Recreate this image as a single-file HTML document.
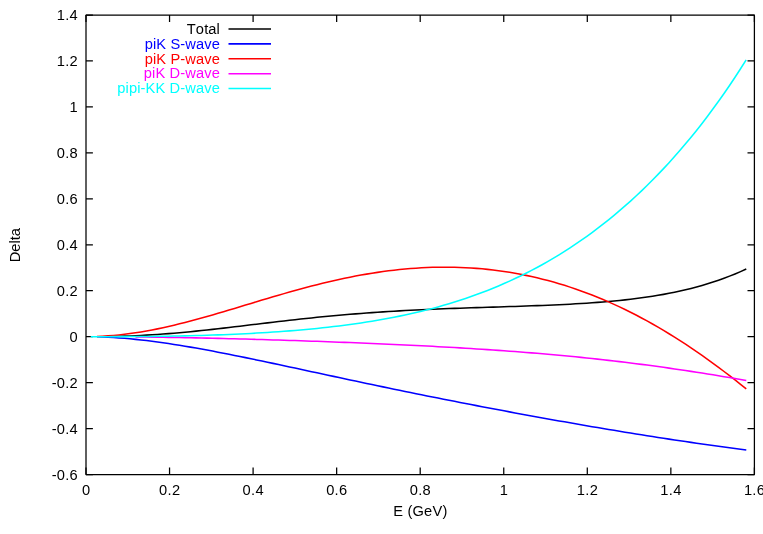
<!DOCTYPE html>
<html><head><meta charset="utf-8"><title>Delta vs E</title>
<style>
html,body{margin:0;padding:0;background:#fff;}
svg{display:block;}
text{font-family:"Liberation Sans",sans-serif;font-size:14.67px;fill:#000;font-kerning:none;}
svg{will-change:transform;}
</style></head><body>
<svg width="763" height="534" viewBox="0 0 763 534">
<rect width="763" height="534" fill="#fff"/>
<path d="M86.0,15.0 H754.4 V474.5 H86.0 Z" fill="none" stroke="#000" stroke-width="1.25" stroke-linejoin="round"/>
<path d="M86.0,474.50 h6.9 M754.4,474.50 h-6.9 M86.0,428.55 h6.9 M754.4,428.55 h-6.9 M86.0,382.60 h6.9 M754.4,382.60 h-6.9 M86.0,336.65 h6.9 M754.4,336.65 h-6.9 M86.0,290.70 h6.9 M754.4,290.70 h-6.9 M86.0,244.75 h6.9 M754.4,244.75 h-6.9 M86.0,198.80 h6.9 M754.4,198.80 h-6.9 M86.0,152.85 h6.9 M754.4,152.85 h-6.9 M86.0,106.90 h6.9 M754.4,106.90 h-6.9 M86.0,60.95 h6.9 M754.4,60.95 h-6.9 M86.0,15.00 h6.9 M754.4,15.00 h-6.9 M86.00,474.5 v-6.9 M86.00,15.0 v6.9 M169.55,474.5 v-6.9 M169.55,15.0 v6.9 M253.10,474.5 v-6.9 M253.10,15.0 v6.9 M336.65,474.5 v-6.9 M336.65,15.0 v6.9 M420.20,474.5 v-6.9 M420.20,15.0 v6.9 M503.75,474.5 v-6.9 M503.75,15.0 v6.9 M587.30,474.5 v-6.9 M587.30,15.0 v6.9 M670.85,474.5 v-6.9 M670.85,15.0 v6.9 M754.40,474.5 v-6.9 M754.40,15.0 v6.9" stroke="#000" stroke-width="1.25" fill="none"/>
<path d="M113.50,336.40 L119.00,336.27 L124.50,336.11 L130.00,335.92 L135.50,335.69 L141.00,335.43 L146.50,335.14 L152.00,334.81 L157.50,334.45 L163.01,334.06 L168.51,333.64 L174.01,333.19 L179.51,332.71 L185.01,332.21 L190.51,331.68 L196.01,331.13 L201.51,330.56 L207.01,329.97 L212.51,329.36 L218.01,328.74 L223.51,328.11 L229.01,327.47 L234.51,326.82 L240.01,326.16 L245.51,325.51 L251.01,324.84 L256.51,324.18 L262.01,323.52 L267.51,322.87 L273.01,322.22 L278.51,321.57 L284.01,320.93 L289.51,320.31 L295.01,319.69 L300.51,319.09 L306.01,318.50 L311.52,317.92 L317.02,317.35 L322.52,316.81 L328.02,316.27 L333.52,315.76 L339.02,315.26 L344.52,314.78 L350.02,314.31 L355.52,313.86 L361.02,313.43 L366.52,313.02 L372.02,312.62 L377.52,312.24 L383.02,311.87 L388.52,311.53 L394.02,311.19 L399.52,310.88 L405.02,310.57 L410.52,310.28 L416.02,310.01 L421.52,309.75 L427.02,309.49 L432.52,309.25 L438.02,309.02 L443.52,308.80 L449.02,308.59 L454.53,308.39 L460.03,308.19 L465.53,308.00 L471.03,307.82 L476.53,307.63 L482.03,307.46 L487.53,307.28 L493.03,307.11 L498.53,306.93 L504.03,306.76 L509.53,306.58 L515.03,306.40 L520.53,306.22 L526.03,306.03 L531.53,305.83 L537.03,305.63 L542.53,305.41 L548.03,305.19 L553.53,304.95 L559.03,304.70 L564.53,304.43 L570.03,304.15 L575.53,303.84 L581.03,303.52 L586.53,303.17 L592.03,302.80 L597.53,302.39 L603.04,301.96 L608.54,301.50 L614.04,301.00 L619.54,300.46 L625.04,299.88 L630.54,299.25 L636.04,298.58 L641.54,297.85 L647.04,297.07 L652.54,296.24 L658.04,295.34 L663.54,294.37 L669.04,293.33 L674.54,292.22 L680.04,291.03 L685.54,289.76 L691.04,288.40 L696.54,286.95 L702.04,285.41 L707.54,283.76 L713.04,282.02 L718.54,280.16 L724.04,278.20 L729.54,276.12 L735.04,273.92 L740.54,271.61 L746.27,269.07" stroke="#000000" stroke-width="1.55" fill="none" stroke-linejoin="round"/>
<path d="M97.00,336.80 L102.50,336.98 L108.00,337.23 L113.50,337.54 L119.00,337.91 L124.50,338.35 L130.00,338.83 L135.50,339.37 L141.00,339.96 L146.50,340.60 L152.00,341.28 L157.50,342.01 L163.01,342.77 L168.51,343.57 L174.01,344.41 L179.51,345.28 L185.01,346.18 L190.51,347.12 L196.01,348.07 L201.51,349.06 L207.01,350.06 L212.51,351.09 L218.01,352.14 L223.51,353.20 L229.01,354.29 L234.51,355.39 L240.01,356.50 L245.51,357.62 L251.01,358.75 L256.51,359.90 L262.01,361.05 L267.51,362.21 L273.01,363.38 L278.51,364.55 L284.01,365.73 L289.51,366.91 L295.01,368.09 L300.51,369.28 L306.01,370.46 L311.52,371.65 L317.02,372.83 L322.52,374.02 L328.02,375.20 L333.52,376.38 L339.02,377.56 L344.52,378.74 L350.02,379.92 L355.52,381.09 L361.02,382.25 L366.52,383.42 L372.02,384.57 L377.52,385.73 L383.02,386.88 L388.52,388.02 L394.02,389.16 L399.52,390.30 L405.02,391.43 L410.52,392.55 L416.02,393.67 L421.52,394.78 L427.02,395.89 L432.52,396.99 L438.02,398.09 L443.52,399.18 L449.02,400.27 L454.53,401.35 L460.03,402.43 L465.53,403.50 L471.03,404.56 L476.53,405.62 L482.03,406.68 L487.53,407.73 L493.03,408.77 L498.53,409.81 L504.03,410.84 L509.53,411.87 L515.03,412.89 L520.53,413.91 L526.03,414.92 L531.53,415.93 L537.03,416.93 L542.53,417.93 L548.03,418.92 L553.53,419.91 L559.03,420.89 L564.53,421.86 L570.03,422.83 L575.53,423.80 L581.03,424.75 L586.53,425.70 L592.03,426.65 L597.53,427.59 L603.04,428.52 L608.54,429.45 L614.04,430.36 L619.54,431.27 L625.04,432.18 L630.54,433.08 L636.04,433.96 L641.54,434.85 L647.04,435.72 L652.54,436.58 L658.04,437.44 L663.54,438.29 L669.04,439.13 L674.54,439.96 L680.04,440.78 L685.54,441.59 L691.04,442.39 L696.54,443.19 L702.04,443.97 L707.54,444.75 L713.04,445.51 L718.54,446.27 L724.04,447.01 L729.54,447.75 L735.04,448.48 L740.54,449.20 L746.29,449.94" stroke="#0000ff" stroke-width="1.55" fill="none" stroke-linejoin="round"/>
<path d="M97.00,336.46 L102.50,336.21 L108.00,335.87 L113.50,335.44 L119.00,334.92 L124.50,334.30 L130.00,333.60 L135.50,332.81 L141.00,331.94 L146.50,330.99 L152.00,329.96 L157.50,328.87 L163.01,327.71 L168.51,326.48 L174.01,325.20 L179.51,323.86 L185.01,322.47 L190.51,321.03 L196.01,319.55 L201.51,318.04 L207.01,316.49 L212.51,314.91 L218.01,313.31 L223.51,311.69 L229.01,310.05 L234.51,308.40 L240.01,306.74 L245.51,305.08 L251.01,303.41 L256.51,301.75 L262.01,300.10 L267.51,298.46 L273.01,296.83 L278.51,295.22 L284.01,293.63 L289.51,292.07 L295.01,290.53 L300.51,289.02 L306.01,287.54 L311.52,286.10 L317.02,284.69 L322.52,283.33 L328.02,282.01 L333.52,280.73 L339.02,279.50 L344.52,278.32 L350.02,277.19 L355.52,276.11 L361.02,275.09 L366.52,274.12 L372.02,273.21 L377.52,272.36 L383.02,271.57 L388.52,270.84 L394.02,270.17 L399.52,269.57 L405.02,269.03 L410.52,268.55 L416.02,268.15 L421.52,267.81 L427.02,267.54 L432.52,267.35 L438.02,267.22 L443.52,267.16 L449.02,267.18 L454.53,267.27 L460.03,267.43 L465.53,267.67 L471.03,267.98 L476.53,268.37 L482.03,268.83 L487.53,269.37 L493.03,269.99 L498.53,270.69 L504.03,271.47 L509.53,272.32 L515.03,273.26 L520.53,274.27 L526.03,275.37 L531.53,276.55 L537.03,277.81 L542.53,279.15 L548.03,280.58 L553.53,282.09 L559.03,283.68 L564.53,285.36 L570.03,287.13 L575.53,288.97 L581.03,290.91 L586.53,292.93 L592.03,295.04 L597.53,297.23 L603.04,299.52 L608.54,301.89 L614.04,304.34 L619.54,306.89 L625.04,309.52 L630.54,312.24 L636.04,315.05 L641.54,317.95 L647.04,320.93 L652.54,324.00 L658.04,327.16 L663.54,330.40 L669.04,333.73 L674.54,337.14 L680.04,340.64 L685.54,344.22 L691.04,347.88 L696.54,351.63 L702.04,355.45 L707.54,359.35 L713.04,363.33 L718.54,367.38 L724.04,371.50 L729.54,375.70 L735.04,379.96 L740.54,384.29 L746.24,388.83" stroke="#ff0000" stroke-width="1.55" fill="none" stroke-linejoin="round"/>
<path d="M135.50,336.92 L141.00,336.98 L146.50,337.05 L152.00,337.12 L157.50,337.20 L163.01,337.28 L168.51,337.37 L174.01,337.47 L179.51,337.57 L185.01,337.67 L190.51,337.78 L196.01,337.89 L201.51,338.01 L207.01,338.13 L212.51,338.26 L218.01,338.39 L223.51,338.52 L229.01,338.66 L234.51,338.80 L240.01,338.95 L245.51,339.10 L251.01,339.25 L256.51,339.41 L262.01,339.57 L267.51,339.73 L273.01,339.90 L278.51,340.07 L284.01,340.24 L289.51,340.42 L295.01,340.60 L300.51,340.78 L306.01,340.97 L311.52,341.16 L317.02,341.35 L322.52,341.55 L328.02,341.75 L333.52,341.96 L339.02,342.16 L344.52,342.37 L350.02,342.59 L355.52,342.81 L361.02,343.03 L366.52,343.26 L372.02,343.49 L377.52,343.72 L383.02,343.96 L388.52,344.21 L394.02,344.46 L399.52,344.71 L405.02,344.97 L410.52,345.23 L416.02,345.50 L421.52,345.78 L427.02,346.06 L432.52,346.35 L438.02,346.65 L443.52,346.95 L449.02,347.25 L454.53,347.57 L460.03,347.89 L465.53,348.22 L471.03,348.56 L476.53,348.91 L482.03,349.26 L487.53,349.63 L493.03,350.00 L498.53,350.38 L504.03,350.77 L509.53,351.17 L515.03,351.58 L520.53,352.01 L526.03,352.44 L531.53,352.88 L537.03,353.33 L542.53,353.80 L548.03,354.28 L553.53,354.76 L559.03,355.27 L564.53,355.78 L570.03,356.30 L575.53,356.84 L581.03,357.39 L586.53,357.96 L592.03,358.54 L597.53,359.13 L603.04,359.74 L608.54,360.36 L614.04,360.99 L619.54,361.64 L625.04,362.30 L630.54,362.98 L636.04,363.67 L641.54,364.37 L647.04,365.09 L652.54,365.83 L658.04,366.57 L663.54,367.34 L669.04,368.12 L674.54,368.91 L680.04,369.71 L685.54,370.53 L691.04,371.37 L696.54,372.22 L702.04,373.08 L707.54,373.95 L713.04,374.84 L718.54,375.74 L724.04,376.65 L729.54,377.57 L735.04,378.51 L740.54,379.45 L746.29,380.45" stroke="#ff00ff" stroke-width="1.55" fill="none" stroke-linejoin="round"/>
<path d="M90.75,336.65 L97.00,336.65 L102.50,336.65 L108.00,336.65 L113.50,336.64 L119.00,336.63 L124.50,336.61 L130.00,336.59 L135.50,336.56 L141.00,336.52 L146.50,336.47 L152.00,336.42 L157.50,336.35 L163.01,336.27 L168.51,336.19 L174.01,336.09 L179.51,335.98 L185.01,335.86 L190.51,335.73 L196.01,335.59 L201.51,335.43 L207.01,335.26 L212.51,335.08 L218.01,334.89 L223.51,334.68 L229.01,334.45 L234.51,334.21 L240.01,333.96 L245.51,333.69 L251.01,333.40 L256.51,333.09 L262.01,332.77 L267.51,332.43 L273.01,332.07 L278.51,331.69 L284.01,331.29 L289.51,330.87 L295.01,330.42 L300.51,329.95 L306.01,329.46 L311.52,328.94 L317.02,328.40 L322.52,327.82 L328.02,327.22 L333.52,326.59 L339.02,325.92 L344.52,325.22 L350.02,324.49 L355.52,323.73 L361.02,322.92 L366.52,322.08 L372.02,321.20 L377.52,320.27 L383.02,319.31 L388.52,318.29 L394.02,317.23 L399.52,316.13 L405.02,314.97 L410.52,313.76 L416.02,312.50 L421.52,311.19 L427.02,309.81 L432.52,308.38 L438.02,306.89 L443.52,305.33 L449.02,303.71 L454.53,302.03 L460.03,300.27 L465.53,298.45 L471.03,296.55 L476.53,294.59 L482.03,292.54 L487.53,290.42 L493.03,288.21 L498.53,285.93 L504.03,283.56 L509.53,281.11 L515.03,278.56 L520.53,275.93 L526.03,273.21 L531.53,270.39 L537.03,267.47 L542.53,264.46 L548.03,261.35 L553.53,258.13 L559.03,254.81 L564.53,251.38 L570.03,247.85 L575.53,244.20 L581.03,240.43 L586.53,236.56 L592.03,232.56 L597.53,228.44 L603.04,224.20 L608.54,219.83 L614.04,215.34 L619.54,210.71 L625.04,205.95 L630.54,201.05 L636.04,196.01 L641.54,190.83 L647.04,185.51 L652.54,180.03 L658.04,174.40 L663.54,168.61 L669.04,162.67 L674.54,156.56 L680.04,150.28 L685.54,143.83 L691.04,137.20 L696.54,130.39 L702.04,123.40 L707.54,116.22 L713.04,108.83 L718.54,101.25 L724.04,93.46 L729.54,85.46 L735.04,77.23 L740.54,68.78 L746.18,59.88" stroke="#00ffff" stroke-width="1.55" fill="none" stroke-linejoin="round"/>
<path d="M228.5,28.95 H271" stroke="#000000" stroke-width="1.55"/>
<text transform="translate(220.0,33.70) scale(1,1.06)" text-anchor="end" style="fill:#000000;letter-spacing:0.12px">Total</text>
<path d="M228.5,43.85 H271" stroke="#0000ff" stroke-width="1.55"/>
<text transform="translate(220.0,48.60) scale(1,1.06)" text-anchor="end" style="fill:#0000ff;letter-spacing:0.12px">piK S-wave</text>
<path d="M228.5,58.75 H271" stroke="#ff0000" stroke-width="1.55"/>
<text transform="translate(220.0,63.50) scale(1,1.06)" text-anchor="end" style="fill:#ff0000;letter-spacing:0.12px">piK P-wave</text>
<path d="M228.5,73.65 H271" stroke="#ff00ff" stroke-width="1.55"/>
<text transform="translate(220.0,78.40) scale(1,1.06)" text-anchor="end" style="fill:#ff00ff;letter-spacing:0.12px">piK D-wave</text>
<path d="M228.5,88.55 H271" stroke="#00ffff" stroke-width="1.55"/>
<text transform="translate(220.0,93.30) scale(1,1.06)" text-anchor="end" style="fill:#00ffff;letter-spacing:0.12px">pipi-KK D-wave</text>
<text transform="translate(77.8,479.50) scale(1,1.06)" text-anchor="end" style="letter-spacing:0.2px">-0.6</text>
<text transform="translate(77.8,433.55) scale(1,1.06)" text-anchor="end" style="letter-spacing:0.2px">-0.4</text>
<text transform="translate(77.8,387.60) scale(1,1.06)" text-anchor="end" style="letter-spacing:0.2px">-0.2</text>
<text transform="translate(77.8,341.65) scale(1,1.06)" text-anchor="end" style="letter-spacing:0.2px">0</text>
<text transform="translate(77.8,295.70) scale(1,1.06)" text-anchor="end" style="letter-spacing:0.2px">0.2</text>
<text transform="translate(77.8,249.75) scale(1,1.06)" text-anchor="end" style="letter-spacing:0.2px">0.4</text>
<text transform="translate(77.8,203.80) scale(1,1.06)" text-anchor="end" style="letter-spacing:0.2px">0.6</text>
<text transform="translate(77.8,157.85) scale(1,1.06)" text-anchor="end" style="letter-spacing:0.2px">0.8</text>
<text transform="translate(77.8,111.90) scale(1,1.06)" text-anchor="end" style="letter-spacing:0.2px">1</text>
<text transform="translate(77.8,65.95) scale(1,1.06)" text-anchor="end" style="letter-spacing:0.2px">1.2</text>
<text transform="translate(77.8,20.00) scale(1,1.06)" text-anchor="end" style="letter-spacing:0.2px">1.4</text>
<text transform="translate(86.15,494.7) scale(1,1.06)" text-anchor="middle" style="letter-spacing:0.3px">0</text>
<text transform="translate(169.70,494.7) scale(1,1.06)" text-anchor="middle" style="letter-spacing:0.3px">0.2</text>
<text transform="translate(253.25,494.7) scale(1,1.06)" text-anchor="middle" style="letter-spacing:0.3px">0.4</text>
<text transform="translate(336.80,494.7) scale(1,1.06)" text-anchor="middle" style="letter-spacing:0.3px">0.6</text>
<text transform="translate(420.35,494.7) scale(1,1.06)" text-anchor="middle" style="letter-spacing:0.3px">0.8</text>
<text transform="translate(503.90,494.7) scale(1,1.06)" text-anchor="middle" style="letter-spacing:0.3px">1</text>
<text transform="translate(587.45,494.7) scale(1,1.06)" text-anchor="middle" style="letter-spacing:0.3px">1.2</text>
<text transform="translate(671.00,494.7) scale(1,1.06)" text-anchor="middle" style="letter-spacing:0.3px">1.4</text>
<text transform="translate(754.55,494.7) scale(1,1.06)" text-anchor="middle" style="letter-spacing:0.3px">1.6</text>
<text transform="translate(420.3,516.2) scale(1,1.06)" text-anchor="middle" style="letter-spacing:0.2px">E (GeV)</text>
<text transform="translate(20.2,245.2) rotate(-90) scale(1,1.0)" text-anchor="middle">Delta</text>
</svg>
</body></html>
